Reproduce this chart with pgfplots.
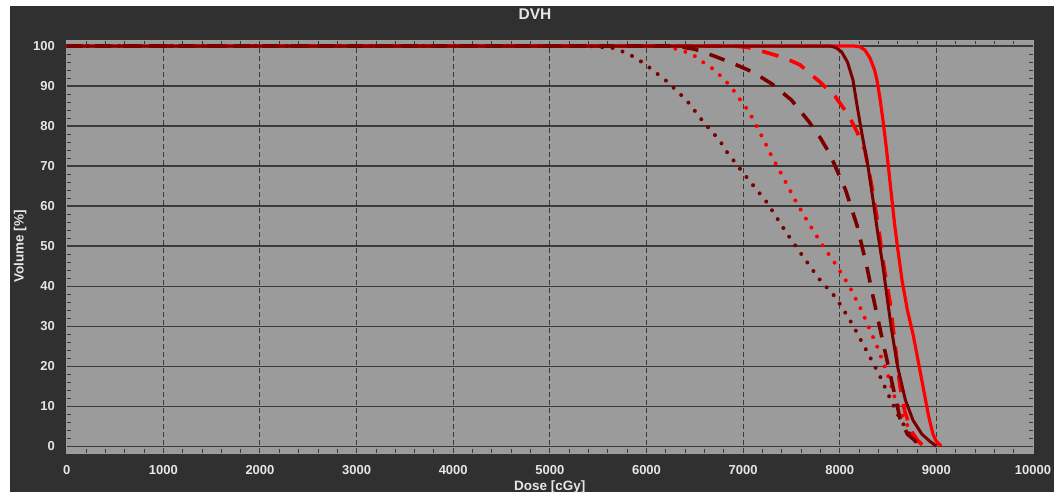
\documentclass[border=0pt]{standalone}
\usepackage{pgfplots}
\pgfplotsset{compat=1.18}
\usepackage{fontspec}
\setmainfont{Liberation Sans}
\definecolor{outerbg}{HTML}{303030}
\definecolor{plotbg}{HTML}{9B9B9B}
\definecolor{gridc}{HTML}{3A3A3A}
\definecolor{txt}{HTML}{E6E6E6}
\definecolor{dred}{HTML}{7A0000}
\definecolor{bred}{HTML}{FF0000}
\begin{document}
\begin{tikzpicture}
\fill[white] (-66.7pt,-42pt) rectangle (994.3pt,453pt);
\fill[outerbg] (-56.7pt,-39pt) rectangle (987.3pt,447pt);
\begin{axis}[
  at={(0pt,0pt)}, anchor=south west,
  scale only axis, width=966.3pt, height=413pt,
  xmin=0, xmax=10000, ymin=-1.7, ymax=101.5,
  xtick={0,1000,...,10000}, ytick={0,10,...,100},
  minor x tick num=4, minor y tick num=4,
  tick pos=both, tick align=inside,
  major tick length=0pt, minor tick length=4pt,
  every tick/.style={gridc, line width=0.8pt},
  grid=major,
  x grid style={gridc, line width=1pt, dash pattern=on 5pt off 3pt},
  y grid style={gridc, line width=1.2pt},
  axis background/.style={fill=plotbg},
  axis line style={draw=gray!75, line width=0.8pt},
  scaled x ticks=false,
  xticklabel={\pgfmathprintnumber[fixed,precision=0,1000 sep={}]{\tick}},
  /pgf/number format/assume math mode=true,
  ticklabel style={font=\fontsize{13}{15}\selectfont\bfseries, text=txt},
  xticklabel style={anchor=center, yshift=-17pt},
  yticklabel style={anchor=east, inner sep=0pt, xshift=-11.7pt},
  title={DVH},
  title style={at={(0.4846,1)}, anchor=center, yshift=20pt, font=\fontsize{15.5}{18}\selectfont\bfseries, text=txt},
  xlabel={Dose [cGy]},
  xlabel style={at={(0.5,0)}, anchor=center, yshift=-34pt, font=\fontsize{13.5}{16}\selectfont\bfseries, text=txt},
  ylabel={Volume [\%]},
  ylabel style={at={(-0.0483,0.5)}, anchor=center, font=\fontsize{13.5}{16}\selectfont\bfseries, text=txt},
]
% red solid
\addplot[bred, line width=3.2pt, line join=round, no markers] coordinates {
(0,100)(8150,100)(8209,99.8)(8260,99)(8313,97)(8360,94)(8385,91.5)(8416,87)(8447,81.5)(8475,76)
(8499,70.8)(8540,61.6)(8570,55)(8602,49)(8644,41.6)(8700,34)(8758,28)(8810,21.5)(8861,15)
(8920,7.5)(8965,3)(9000,1.2)(9050,0)};
% red dotted
\addplot[bred, line width=4pt, line cap=round, dash pattern=on 0pt off 10.5pt, no markers] coordinates {
(0,100)(6200,100)(6346,99)(6470,98)(6584,96)(6687,94.3)(6791,92)(6884,89.5)(6957,87)(7039,84.3)
(7101,81.8)(7163,78.8)(7225,76)(7277,73.3)(7412,67.3)(7536,61.6)(7671,56)(7816,50.4)(7971,45)
(8106,39.7)(8230,33.7)(8385,25)(8489,18.5)(8571,12)(8650,7.5)(8727,4)(8800,1.5)(8880,0)};
% red dashed
\addplot[bred, line width=3.6pt, line join=round, dash pattern=on 17pt off 12pt, no markers] coordinates {
(0,100)(6900,100)(7039,99.7)(7225,98.5)(7432,97)(7588,95.3)(7795,91)(7950,87.5)(8088,82.8)
(8180,78.5)(8261,73.9)(8337,64.3)(8399,55)(8457,45)(8520,36)(8570,26)(8623,15)(8675,8.5)
(8747,3.5)(8820,1)(8880,0)};
% dark dotted
\addplot[dred, line width=4pt, line cap=round, dash pattern=on 0pt off 10.5pt, no markers] coordinates {
(0,100)(5400,100)(5650,99.5)(5800,98.2)(5910,96.7)(6010,95)(6220,91)(6420,86.3)(6580,81.3)
(6760,76.3)(6830,73.6)(7000,68.3)(7250,60.8)(7460,52.9)(7620,47.4)(7780,42)(7950,37.4)
(8023,34.7)(8130,30.5)(8230,26)(8330,21.5)(8416,17.5)(8520,12)(8610,7.5)(8706,3.5)(8790,1)(8870,0)};
% dark dashed
\addplot[dred, line width=3.6pt, line join=round, dash pattern=on 16pt off 12pt, no markers] coordinates {
(0,100)(6300,100)(6500,99.2)(6700,97.5)(6900,95.6)(7100,93.5)(7300,90.5)(7500,86.5)(7681,81.1)
(7800,77)(7898,73)(8061,64)(8181,55)(8279,45)(8344,37.5)(8447,26)(8540,16)(8623,7)(8700,3)
(8800,1)(8870,0)};
% dark solid
\addplot[dred, line width=3pt, line join=round, no markers] coordinates {
(0,100)(7900,100)(7960,99.6)(8020,98.5)(8080,96)(8137,91.5)(8180,85)(8230,78)(8292,70)(8344,61.6)
(8395,53)(8447,45)(8489,37.4)(8540,28.5)(8602,19.5)(8680,11.5)(8758,6.5)(8850,3)(8934,1.2)(9000,0)};
\end{axis}
\end{tikzpicture}
\end{document}
